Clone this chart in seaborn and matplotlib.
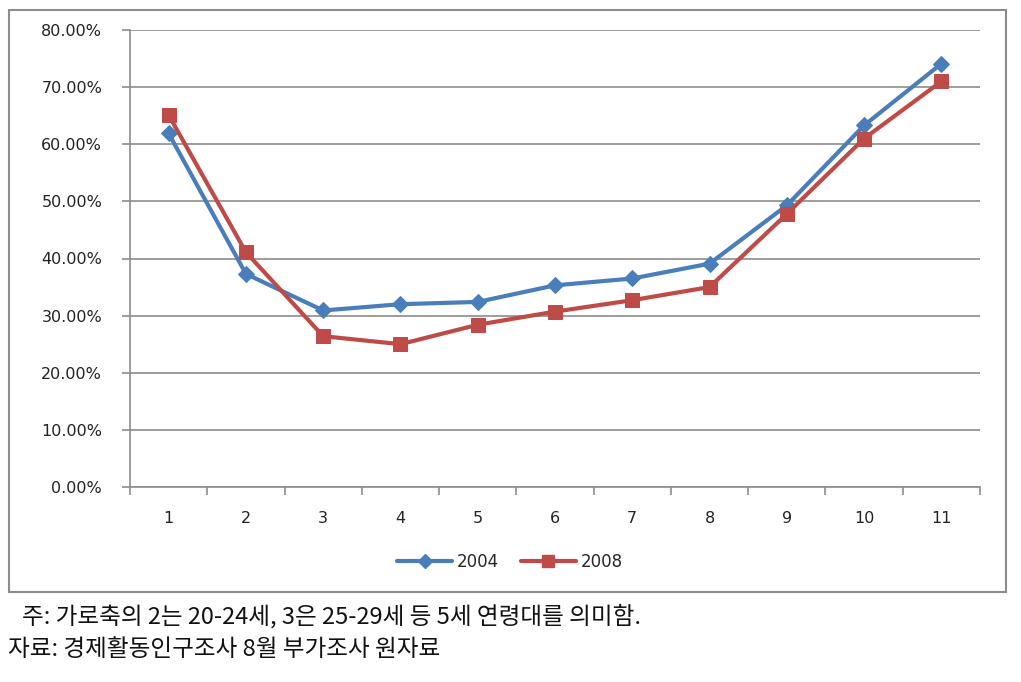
import matplotlib
matplotlib.use("Agg")
import matplotlib.pyplot as plt
import matplotlib.patches as mpatches
from matplotlib.ticker import FuncFormatter, FixedLocator
import seaborn as sns
import pandas as pd

categories = [1, 2, 3, 4, 5, 6, 7, 8, 9, 10, 11]
series_names = ["2004", "2008"]
values_2004 = [61.9, 37.3, 30.9, 32.0, 32.4, 35.3, 36.5, 39.1, 49.3, 63.3, 74.1]
values_2008 = [65.1, 41.1, 26.4, 25.0, 28.4, 30.7, 32.7, 35.0, 47.8, 61.0, 71.0]
y_ticks = [0, 10, 20, 30, 40, 50, 60, 70, 80]
note_line1 = "주: 가로축의 2는 20-24세, 3은 25-29세 등 5세 연령대를 의미함."
note_line2 = "자료: 경제활동인구조사 8월 부가조사 원자료"

df = pd.DataFrame({
    "cat": categories * 2,
    "value": values_2004 + values_2008,
    "series": [series_names[0]] * len(categories) + [series_names[1]] * len(categories),
})

sns.set_theme(style="white")
plt.rcParams["font.family"] = ["DejaVu Sans", "Noto Sans CJK KR"]

fig = plt.figure(figsize=(10.21, 6.82), dpi=100)
ax = fig.add_axes([130 / 1021, 1 - 487 / 682, (980 - 130) / 1021, (487 - 30) / 682])

palette = {"2004": "#4A7EBB", "2008": "#BE4B48"}
markers = {"2004": "D", "2008": "s"}
sizes_ms = {"2004": 8, "2008": 10}

for name in series_names:
    sub = df[df["series"] == name]
    sns.lineplot(data=sub, x="cat", y="value", ax=ax, color=palette[name],
                 marker=markers[name], markersize=sizes_ms[name],
                 markeredgecolor=palette[name], linewidth=3, label=name,
                 legend=False)

ax.set_xlim(0.5, 11.5)
ax.set_ylim(0, 80)
ax.yaxis.set_major_locator(FixedLocator(y_ticks))
ax.yaxis.set_major_formatter(FuncFormatter(lambda v, p: f"{v:.2f}%"))
ax.set_xticks(categories)
ax.set_xticklabels([str(c) for c in categories])
ax.set_xticks([c + 0.5 for c in [0] + categories], minor=True)
ax.set_xlabel("")
ax.set_ylabel("")

grid_c = "#8C8C8C"
ax.grid(axis="y", color=grid_c, linewidth=1.2)
ax.grid(axis="x", visible=False)
ax.set_axisbelow(True)
for s in ["top", "right"]:
    ax.spines[s].set_visible(False)
for s in ["left", "bottom"]:
    ax.spines[s].set_color(grid_c)
    ax.spines[s].set_linewidth(1.2)

ax.tick_params(axis="x", which="major", length=0, pad=17, labelsize=11.5, labelcolor="#222222")
ax.tick_params(axis="x", which="minor", length=6, width=1.2, color=grid_c, direction="out", bottom=True)
ax.tick_params(axis="y", which="major", length=6, width=1.2, color=grid_c, direction="out", left=True,
               pad=14, labelsize=11.5, labelcolor="#222222")

handles = [
    plt.Line2D([], [], color=palette["2004"], marker="D", markersize=7, linewidth=3),
    plt.Line2D([], [], color=palette["2008"], marker="s", markersize=9, linewidth=3),
]
fig.legend(handles, series_names, loc="center", bbox_to_anchor=(510 / 1021, 1 - 562 / 682),
           ncol=2, frameon=False, fontsize=12, handlelength=3.3, columnspacing=1.3,
           handletextpad=0.3)

rect = mpatches.Rectangle((9 / 1021, 1 - 592 / 682), (1006 - 9) / 1021, (592 - 10) / 682,
                          transform=fig.transFigure, fill=False, edgecolor="#8C8C8C", linewidth=1.5)
fig.patches.append(rect)

fig.text(22 / 1021, 1 - 616 / 682, note_line1, family=["Noto Sans CJK KR", "DejaVu Sans"],
         fontsize=17, va="center", ha="left", color="#111111")
fig.text(8 / 1021, 1 - 650 / 682, note_line2, family=["Noto Sans CJK KR", "DejaVu Sans"],
         fontsize=17, va="center", ha="left", color="#111111")

fig.savefig("out.png", dpi=100)
